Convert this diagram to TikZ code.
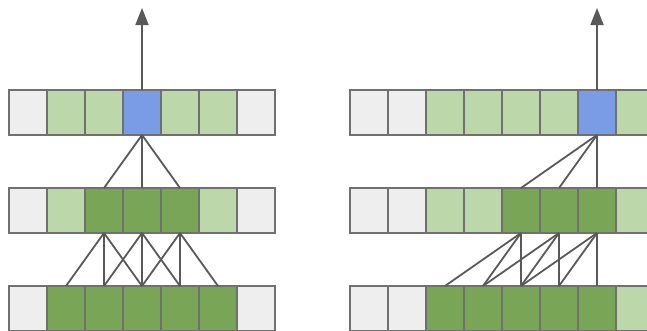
\documentclass[tikz,border=0pt]{standalone}
\usetikzlibrary{arrows.meta}
\definecolor{cgrey}{HTML}{EEEEEE}
\definecolor{clight}{HTML}{BCD8AA}
\definecolor{cdark}{HTML}{78A556}
\definecolor{cblue}{HTML}{7A9BE5}
\definecolor{cborder}{HTML}{707070}
\definecolor{cline}{HTML}{595959}
\tikzset{
  cell/.style={draw=cborder, line width=1.6pt, minimum width=38pt, minimum height=45pt, inner sep=0pt, outer sep=0pt},
  gc/.style={cell, fill=cgrey},
  lc/.style={cell, fill=clight},
  dc/.style={cell, fill=cdark},
  bc/.style={cell, fill=cblue},
  conn/.style={draw=cline, line width=1.8pt},
  outarrow/.style={conn, -{Triangle[length=17pt,width=13pt]}}
}
\begin{document}
\begin{tikzpicture}[x=1pt,y=-1pt]
\useasboundingbox (0,0) rectangle (647,330);
\clip (0,0) rectangle (647,330);
% left panel
\foreach \i/\s in {1/gc,2/lc,3/lc,4/bc,5/lc,6/lc,7/gc}
  \node[\s] (LT\i) at ({9+38*(\i-1)+19},112.5) {};
\foreach \i/\s in {1/gc,2/lc,3/dc,4/dc,5/dc,6/lc,7/gc}
  \node[\s] (LM\i) at ({9+38*(\i-1)+19},210.5) {};
\foreach \i/\s in {1/gc,2/dc,3/dc,4/dc,5/dc,6/dc,7/gc}
  \node[\s] (LB\i) at ({9+38*(\i-1)+19},308.5) {};
% right panel
\foreach \i/\s in {1/gc,2/gc,3/lc,4/lc,5/lc,6/lc,7/bc,8/lc}
  \node[\s] (RT\i) at ({350+38*(\i-1)+19},112.5) {};
\foreach \i/\s in {1/gc,2/gc,3/lc,4/lc,5/dc,6/dc,7/dc,8/lc}
  \node[\s] (RM\i) at ({350+38*(\i-1)+19},210.5) {};
\foreach \i/\s in {1/gc,2/gc,3/dc,4/dc,5/dc,6/dc,7/dc,8/lc}
  \node[\s] (RB\i) at ({350+38*(\i-1)+19},308.5) {};
% output arrows
\coordinate (LO) at (142,8);
\coordinate (RO) at (597,8);
\draw[outarrow] (LT4.north) -- (LO);
\draw[outarrow] (RT7.north) -- (RO);
% left connections
\foreach \j in {3,4,5} \draw[conn] (LT4.south) -- (LM\j.north);
\foreach \m in {3,4,5}{
  \pgfmathtruncatemacro{\a}{\m-1}
  \pgfmathtruncatemacro{\b}{\m+1}
  \foreach \j in {\a,\m,\b} \draw[conn] (LM\m.south) -- (LB\j.north);
}
% right connections
\foreach \j in {5,6,7} \draw[conn] (RT7.south) -- (RM\j.north);
\foreach \m in {5,6,7}{
  \pgfmathtruncatemacro{\a}{\m-2}
  \pgfmathtruncatemacro{\b}{\m-1}
  \foreach \j in {\a,\b,\m} \draw[conn] (RM\m.south) -- (RB\j.north);
}
\end{tikzpicture}
\end{document}
